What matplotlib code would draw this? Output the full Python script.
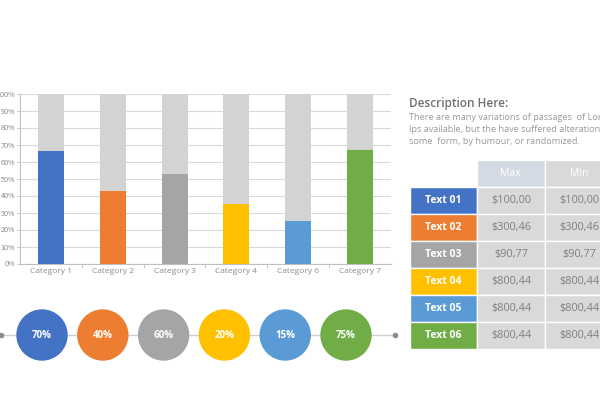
import matplotlib

matplotlib.use("Agg")

import matplotlib.pyplot as plt
from matplotlib.patches import Circle, Rectangle

plt.rcParams["font.family"] = ["Open Sans", "DejaVu Sans"]

# data
categories = ["Category 1", "Category 2", "Category 3", "Category 4", "Category 6", "Category 7"]
bar_values = [0.667, 0.43, 0.528, 0.351, 0.253, 0.668]
circle_labels = ["70%", "40%", "60%", "20%", "15%", "75%"]
row_labels = ["Text 01", "Text 02", "Text 03", "Text 04", "Text 05", "Text 06"]
max_values = ["$100,00", "$300,46", "$90,77", "$800,44", "$800,44", "$800,44"]
min_values = ["$100,00", "$300,46", "$90,77", "$800,44", "$800,44", "$800,44"]
header_labels = ["Max", "Min"]

COLORS = ["#4472C4", "#ED7D31", "#A5A5A5", "#FFC000", "#5B9BD5", "#70AD47"]
BACK_GREY = "#D3D3D3"
TEXT_GREY = "#8C8C8C"

W, H = 600, 400
fig = plt.figure(figsize=(6, 4), dpi=100)

# ---- bar chart ----
ax = fig.add_axes([20 / W, 1 - 264 / H, (391 - 20) / W, (264 - 94) / H])
xs = range(len(categories))
ax.bar(xs, [1.0] * len(categories), width=0.42, color=BACK_GREY, zorder=2)
ax.bar(xs, bar_values, width=0.42, color=COLORS, zorder=3)
ax.set_xlim(-0.5, len(categories) - 0.5)
ax.set_ylim(0, 1)
ax.set_yticks([i / 10 for i in range(11)])
ax.set_yticklabels([f"{i * 10}%" for i in range(11)], fontsize=5.2, color=TEXT_GREY,
                   family=["Liberation Sans", "DejaVu Sans"])
ax.set_xticks(list(xs))
ax.set_xticklabels(categories, fontsize=6, color=TEXT_GREY)
ax.tick_params(axis="x", length=0, pad=3)
ax.tick_params(axis="y", length=2, width=0.6, color="#BFBFBF", pad=1.5)
ax.set_xticks([i + 0.5 for i in range(len(categories) - 1)], minor=True)
ax.tick_params(axis="x", which="minor", length=3, width=0.6, color="#BFBFBF")
ax.grid(axis="y", color="#DADADA", linewidth=0.8, zorder=0)
for side in ["top", "right"]:
    ax.spines[side].set_visible(False)
for side in ["left", "bottom"]:
    ax.spines[side].set_color("#BFBFBF")
    ax.spines[side].set_linewidth(0.8)

# ---- overlay in pixel coordinates ----
ov = fig.add_axes([0, 0, 1, 1])
ov.set_xlim(0, W)
ov.set_ylim(H, 0)
ov.axis("off")

# circles on a line
line_y = 335
ov.plot([1, 395], [line_y, line_y], color="#D0D0D0", linewidth=1, zorder=1)
ov.plot([1, 395], [line_y, line_y], "o", color="#8C8C8C", markersize=3, zorder=2)
circle_x0, circle_step, radius = 42, 60.8, 25
for i, (label, color) in enumerate(zip(circle_labels, COLORS)):
    cx = circle_x0 + i * circle_step
    ov.add_patch(Circle((cx, line_y), radius, color=color, zorder=3))
    ov.text(cx, line_y, label, color="white", fontsize=7, fontweight="bold",
            ha="center", va="center", zorder=4)

# description
ov.text(409, 103, "Description Here:", fontsize=8.5, color="#6F6F6F",
        fontweight="semibold", va="center")
body = [
    "There are many variations of passages  of Lorem",
    "Ips available, but the have suffered alteration in",
    "some  form, by humour, or randomized.",
]
for i, line in enumerate(body):
    ov.text(409, 117 + i * 12.2, line, fontsize=6.6, color="#9A9A9A", va="center")

# table
label_x, max_x, min_x, right_x = 410, 477, 545, 613
header_top, row_top, row_h = 160, 187, 27
ov.add_patch(Rectangle((max_x, header_top), min_x - max_x, row_top - header_top,
                       facecolor="#D3DAE3", edgecolor="white", linewidth=1))
ov.add_patch(Rectangle((min_x, header_top), right_x - min_x, row_top - header_top,
                       facecolor="#D9D9D9", edgecolor="white", linewidth=1))
for x0, x1, name in [(max_x, min_x, header_labels[0]), (min_x, right_x, header_labels[1])]:
    ov.text((x0 + x1) / 2 - (1 if name == "Max" else 0), (header_top + row_top) / 2, name,
            color="white", fontsize=7.5, ha="center", va="center")

for i, (lab, mx, mn, color) in enumerate(zip(row_labels, max_values, min_values, COLORS)):
    y0 = row_top + i * row_h
    ov.add_patch(Rectangle((label_x, y0), max_x - label_x, row_h,
                           facecolor=color, edgecolor="white", linewidth=1))
    ov.add_patch(Rectangle((max_x, y0), min_x - max_x, row_h,
                           facecolor="#D9D9D9", edgecolor="white", linewidth=1))
    ov.add_patch(Rectangle((min_x, y0), right_x - min_x, row_h,
                           facecolor="#D9D9D9", edgecolor="white", linewidth=1))
    yc = y0 + row_h / 2
    ov.text((label_x + max_x) / 2, yc, lab, color="white", fontsize=7.5,
            fontweight="bold", ha="center", va="center")
    ov.text((max_x + min_x) / 2, yc, mx, color="#7F7F7F", fontsize=7.8,
            ha="center", va="center")
    ov.text((min_x + right_x) / 2, yc, mn, color="#7F7F7F", fontsize=7.8,
            ha="center", va="center")

fig.savefig("out.png", dpi=100)
